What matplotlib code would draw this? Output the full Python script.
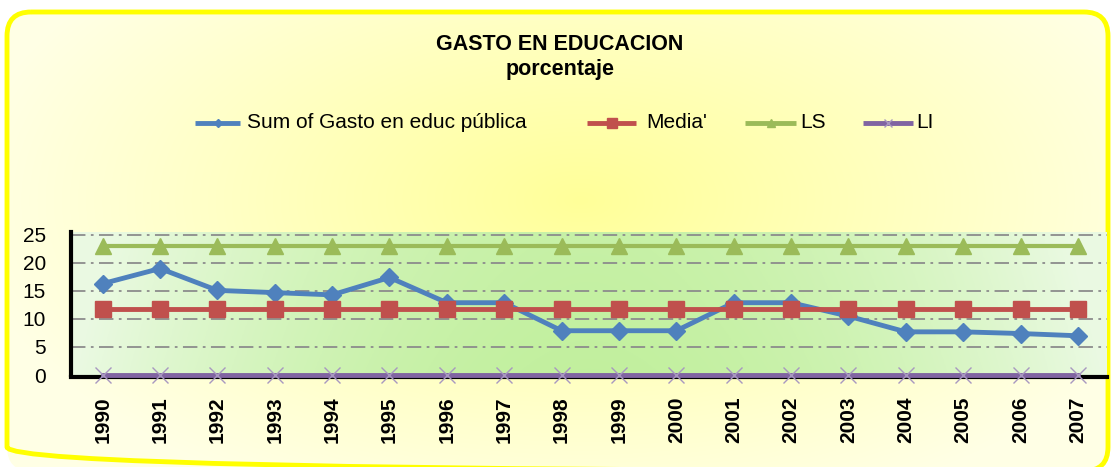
import numpy as np
import matplotlib.pyplot as plt
from matplotlib.patches import FancyBboxPatch

# data
years = [str(y) for y in range(1990, 2008)]
gasto = [16.3, 19.0, 15.1, 14.7, 14.3, 17.4, 12.9, 12.9, 7.9, 7.9, 7.9,
         12.9, 12.9, 10.5, 7.7, 7.7, 7.4, 7.0]
media = [11.7] * 18
ls_vals = [23.0] * 18
li_vals = [0.0] * 18

plt.rcParams['font.family'] = ['Liberation Sans', 'DejaVu Sans']

BLUE, RED, GREEN, PURPLE = '#4F81BD', '#C0504D', '#9BBB59', '#8064A2'

fig = plt.figure(figsize=(11.11, 4.67), dpi=100)
fig.patch.set_facecolor('white')

# yellow radial background of the chart area (pixel coords)
bg = fig.add_axes([0, 0, 1, 1], zorder=-10)
bg.set_xlim(0, 1111)
bg.set_ylim(467, 0)
bg.axis('off')
yy, xx = np.mgrid[0:467, 0:1111]
r = np.sqrt(((xx - 580) / 620.0) ** 2 + ((yy - 200) / 330.0) ** 2)
r = np.clip(r, 0, 1)
c_in = np.array([1.0, 1.0, 0.60])
c_out = np.array([1.0, 1.0, 0.90])
img = c_in[None, None, :] * (1 - r[..., None]) + c_out[None, None, :] * r[..., None]
frame = FancyBboxPatch((7, 12), 1101, 459, boxstyle="round,pad=0,rounding_size=24",
                       fc='none', ec='#FFFF00', lw=3.5)
bg.add_patch(frame)
im = bg.imshow(img, extent=(0, 1111, 467, 0), zorder=0)
im.set_clip_path(frame)

# legend drawn by hand so the entries sit where they are in the picture
leg_y = 123
leg_items = [("Sum of Gasto en educ pública", BLUE, 'D', 4, 195, 240, 247),
             ("Media'", RED, 's', 7, 587, 636, 646),
             ("LS", GREEN, '^', 6, 745, 796, 800),
             ("LI", PURPLE, 'x', 6, 863, 913, 916)]
for lab, col, mk, ms, x0, x1, tx in leg_items:
    bg.plot([x0, x1], [leg_y, leg_y], color=col, lw=3.5, solid_capstyle='butt')
    bg.plot([(x0 + x1) / 2], [leg_y], marker=mk, ms=ms, color=col,
            mec='#A898C0' if mk == 'x' else col, mew=1)
    bg.text(tx, leg_y, lab, ha='left', va='center', fontsize=15)

bg.text(560, 45, 'GASTO EN EDUCACION', ha='center', va='center',
        fontsize=15.5, fontweight='bold')
bg.text(560, 70, 'porcentaje', ha='center', va='center',
        fontsize=15.5, fontweight='bold')

ax = fig.add_axes([0.064, 0.197, 0.932, 0.306])
x = np.arange(len(years))

# spine setup first: set_position resets the ticks
for s in ['top', 'right']:
    ax.spines[s].set_visible(False)
ax.spines['left'].set_linewidth(3)
ax.spines['bottom'].set_linewidth(3)
ax.spines['bottom'].set_position(('data', -0.4))

# green gradient inside the plot area
gy, gx = np.mgrid[0:100, 0:400]
d = np.abs(gx / 399.0 - 0.5) / 0.5
d = np.clip(d ** 1.8 + (1 - gy / 99.0) * 0.12, 0, 1)
g_in = np.array([0.76, 0.94, 0.62])
g_out = np.array([0.92, 0.98, 0.89])
gimg = g_in[None, None, :] * (1 - d[..., None]) + g_out[None, None, :] * d[..., None]
ax.imshow(gimg, extent=(-0.55, 17.5, 0, 25.5), aspect='auto', zorder=0)

for v in [5, 10, 15, 20, 25]:
    ax.axhline(v, color='#8C8C8C', lw=1.3, ls=(0, (8, 3, 1.5, 3)), zorder=1)

ax.plot(x, ls_vals, color=GREEN, lw=3, marker='^', ms=12, zorder=3)
ax.plot(x, gasto, color=BLUE, lw=3.5, marker='D', ms=9, zorder=4)
ax.plot(x, media, color=RED, lw=3.5, marker='s', ms=12, zorder=5)
ax.plot(x, li_vals, color=PURPLE, lw=3.5, marker='x', ms=11, mew=1,
        mec='#A898C0', zorder=6, clip_on=False)

ax.set_xlim(-0.55, 17.5)
ax.set_ylim(0, 25.5)
ax.set_yticks([0, 5, 10, 15, 20, 25])
ax.set_xticks(x)
ax.set_xticklabels(years, fontweight='bold')
ax.tick_params(axis='x', length=0, labelsize=15, labelrotation=90, pad=14)
ax.tick_params(axis='y', length=0, labelsize=15, pad=18)
for lab in ax.get_xticklabels():
    lab.set_fontweight('bold')

fig.savefig('out.png', dpi=100)
